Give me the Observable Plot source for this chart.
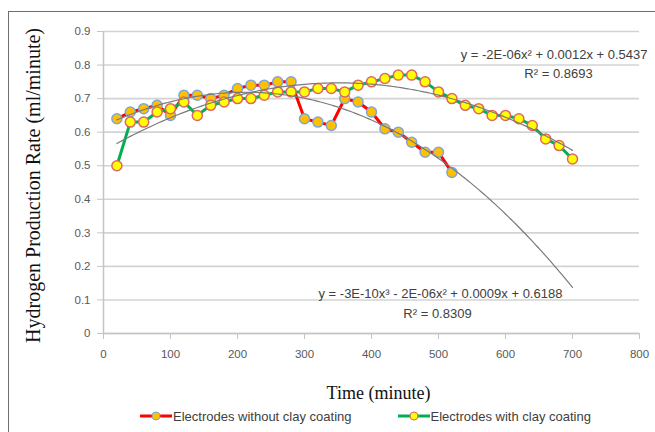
<!DOCTYPE html>
<html><head><meta charset="utf-8">
<script src="https://cdn.jsdelivr.net/npm/d3@7"></script>
<script src="https://cdn.jsdelivr.net/npm/@observablehq/plot@0.6"></script>
<style>
html,body{margin:0;padding:0;background:#fff;}
body{width:655px;height:432px;overflow:hidden;position:relative;font-family:"Liberation Sans",Arial,sans-serif;}
#frame{position:absolute;left:8px;top:11px;width:720px;height:520px;border:1.5px solid #6e6e6e;pointer-events:none;}
#legend{display:flex;align-items:center;height:26px;font-size:13px;color:#404040;}
.item{display:flex;align-items:center;}
.item svg{display:block;}
</style>
</head><body>
<div id="chart"></div>
<div id="legend"></div>
<div id="frame"></div>
<script>
// ---- data ----
const timeNoClay = [20,40,60,80,100,120,140,160,180,200,220,240,260,280,300,320,340,360,380,400,420,440,460,480,500,520];
const rateNoClay = [0.64,0.66,0.67,0.68,0.65,0.71,0.71,0.70,0.71,0.73,0.74,0.74,0.75,0.75,0.64,0.63,0.62,0.70,0.69,0.66,0.61,0.60,0.57,0.54,0.54,0.48];
const timeClay = [20,40,60,80,100,120,140,160,180,200,220,240,260,280,300,320,340,360,380,400,420,440,460,480,500,520,540,560,580,600,620,640,660,680,700];
const rateClay = [0.50,0.63,0.63,0.66,0.67,0.69,0.65,0.68,0.69,0.70,0.70,0.71,0.72,0.72,0.72,0.73,0.73,0.72,0.74,0.75,0.76,0.77,0.77,0.75,0.72,0.70,0.68,0.67,0.65,0.65,0.64,0.62,0.58,0.56,0.52];
const seriesNames = ["Electrodes without clay coating","Electrodes with clay coating"];
const xTicks = [0,100,200,300,400,500,600,700,800];
const yTicks = [0,0.1,0.2,0.3,0.4,0.5,0.6,0.7,0.8,0.9];
const eqClay = "y = -2E-06x\u00b2 + 0.0012x + 0.5437";
const r2Clay = "R\u00b2 = 0.8693";
const eqNoClay = "y = -3E-10x\u00b3 - 2E-06x\u00b2 + 0.0009x + 0.6188";
const r2NoClay = "R\u00b2 = 0.8309";
const xTitle = "Time (minute)";
const yTitle = "Hydrogen Production Rate (ml/minute)";

// ---- tables ----
const noClay = timeNoClay.map((t,i)=>({t, v: rateNoClay[i]}));
const clay = timeClay.map((t,i)=>({t, v: rateClay[i]}));

// least-squares polynomial trend lines (like Excel's)
function polyfit(xs, ys, deg){
  const n = deg+1, s = 100;
  const A = Array.from({length:n},()=>new Array(n+1).fill(0));
  xs.forEach((x0,k)=>{
    const x = x0/s;
    for(let i=0;i<n;i++){
      for(let j=0;j<n;j++) A[i][j]+=Math.pow(x,i+j);
      A[i][n]+=Math.pow(x,i)*ys[k];
    }
  });
  for(let i=0;i<n;i++){
    let p=i; for(let r=i+1;r<n;r++) if(Math.abs(A[r][i])>Math.abs(A[p][i])) p=r;
    [A[i],A[p]]=[A[p],A[i]];
    for(let r=0;r<n;r++){ if(r===i) continue; const f=A[r][i]/A[i][i]; for(let c=i;c<=n;c++) A[r][c]-=f*A[i][c]; }
  }
  const coef = A.map((row,i)=>row[n]/row[i]);
  return x0=>{const x=x0/s; return coef.reduce((acc,c,i)=>acc+c*Math.pow(x,i),0);};
}
const fNoClay = polyfit(timeNoClay, rateNoClay, 3);
const fClay = polyfit(timeClay, rateClay, 2);
const grid = d3.range(timeNoClay[0], timeClay[timeClay.length-1]+0.01, 4);
const trendNoClay = grid.map(t=>({t, v:fNoClay(t)}));
const trendClay = grid.map(t=>({t, v:fClay(t)}));

const eqFont = {fontFamily:"Liberation Sans, Arial, sans-serif", fontSize:13, fill:"#404040"};
const titleFont = {fontFamily:"Liberation Serif, Times New Roman, serif", fill:"#111"};

const chart = Plot.plot({
  width: 655, height: 403,
  marginLeft: 103, marginRight: 16, marginTop: 31, marginBottom: 70,
  x: {domain:[0,800]},
  y: {domain:[0,0.9]},
  style: {fontFamily:"Liberation Sans, Arial, sans-serif", fontSize:"11px", background:"transparent", overflow:"visible"},
  marks: [
    Plot.gridY(yTicks, {stroke:"#d3d3d3", strokeOpacity:1, strokeWidth:1.6}),
    Plot.ruleX([0], {stroke:"#c4c4c4", strokeWidth:1.5}),
    Plot.ruleY([0], {stroke:"#c4c4c4", strokeWidth:1.5}),
    Plot.axisY(yTicks, {tickSize:6, tickPadding:7, stroke:"#c4c4c4", fill:"#595959", label:null, tickFormat:d=>d===0?"0":d.toFixed(1), fontSize:11.5}),
    Plot.axisX(xTicks, {tickSize:6, tickPadding:10, stroke:"#c4c4c4", fill:"#595959", label:null, fontSize:11.5}),
    Plot.line(noClay, {x:"t", y:"v", stroke:"#ff0000", strokeWidth:3}),
    Plot.dot(noClay, {x:"t", y:"v", r:5, fill:"#ffc000", stroke:"#7ea6d8", strokeWidth:1.5}),
    Plot.line(clay, {x:"t", y:"v", stroke:"#00b050", strokeWidth:3}),
    Plot.dot(clay, {x:"t", y:"v", r:5, fill:"#ffff00", stroke:"#e06666", strokeWidth:1.5}),
    Plot.line(trendNoClay, {x:"t", y:"v", stroke:"#7a7a7a", strokeWidth:1.2}),
    Plot.line(trendClay, {x:"t", y:"v", stroke:"#7a7a7a", strokeWidth:1.2}),
    Plot.text([eqClay], {frameAnchor:"top-right", dx:8, dy:23, textAnchor:"end", lineAnchor:"middle", ...eqFont}),
    Plot.text([r2Clay], {frameAnchor:"top-right", dx:-81, dy:42, textAnchor:"middle", lineAnchor:"middle", ...eqFont}),
    Plot.text([eqNoClay], {frameAnchor:"top-left", dx:215, dy:262, textAnchor:"start", lineAnchor:"middle", ...eqFont}),
    Plot.text([r2NoClay], {frameAnchor:"top-left", dx:334, dy:282, textAnchor:"middle", lineAnchor:"middle", ...eqFont}),
    Plot.text([yTitle], {frameAnchor:"left", dx:-70, dy:3, rotate:-90, textAnchor:"middle", lineAnchor:"middle", fontSize:20, ...titleFont}),
    Plot.text([xTitle], {frameAnchor:"bottom", dx:7, dy:60, textAnchor:"middle", lineAnchor:"middle", fontSize:18, ...titleFont})
  ]
});
document.getElementById("chart").appendChild(chart);

// legend
const legend = document.getElementById("legend");
const legendStyles = [
  {line:"#ff0000", fill:"#ffc000", stroke:"#7ea6d8", left:140, width:260},
  {line:"#00b050", fill:"#ffff00", stroke:"#e06666", left:0, width:260}
];
seriesNames.forEach((name,i)=>{
  const s = legendStyles[i];
  const item = document.createElement("div");
  item.className = "item";
  item.style.marginLeft = s.left+"px";
  item.style.width = s.width+"px";
  item.innerHTML = `<svg width="32" height="12"><line x1="0" y1="6" x2="32" y2="6" stroke="${s.line}" stroke-width="3"/><circle cx="16" cy="6" r="4" fill="${s.fill}" stroke="${s.stroke}" stroke-width="1"/></svg><span style="margin-left:1px">${name}</span>`;
  legend.appendChild(item);
});
</script>
</body></html>
